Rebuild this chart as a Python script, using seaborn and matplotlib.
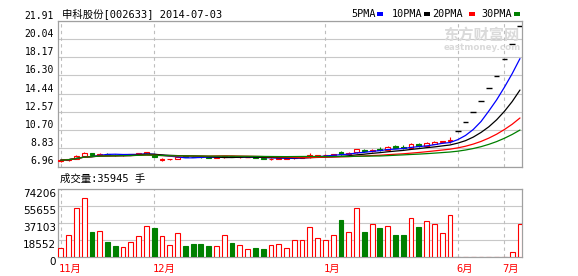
import numpy as np
import pandas as pd
import matplotlib
matplotlib.use("Agg")
import matplotlib.pyplot as plt
import matplotlib.transforms as mtrans
from matplotlib.patches import Rectangle
import seaborn as sns

# ---------------- data ----------------
title_text = "申科股份[002633] 2014-07-03"
opens = [7.51, 7.58, 7.73, 8.03, 8.33, 8.18, 8.28, 8.18, 8.13, 8.15,
         8.21, 8.28, 8.13, 7.58, 7.68, 7.73, 8.05, 7.98, 7.95, 7.93,
         7.85, 7.89, 7.99, 7.89, 7.91, 7.93, 7.87, 7.68, 7.75, 7.77,
         7.79, 7.83, 7.91, 8.08, 8.11, 8.15, 8.43, 8.23, 8.43, 8.68,
         8.53, 8.73, 8.68, 9.03, 8.93, 8.85, 9.23, 9.11, 9.28, 9.45,
         9.53, 10.55, 11.50, 12.55, 13.65, 15.00, 16.25, 17.98, 19.52, 21.37]
highs = [7.65, 7.75, 8.11, 8.41, 8.38, 8.38, 8.31, 8.23, 8.23, 8.25,
         8.38, 8.48, 8.28, 7.83, 7.78, 8.08, 8.08, 8.01, 7.98, 7.95,
         7.95, 8.03, 8.01, 7.98, 7.97, 7.95, 7.89, 7.81, 7.83, 7.85,
         7.91, 7.95, 8.33, 8.18, 8.21, 8.28, 8.58, 8.43, 8.78, 8.73,
         8.73, 8.93, 9.03, 9.18, 9.13, 9.33, 9.38, 9.48, 9.53, 9.61,
         10.03, 10.55, 11.50, 12.55, 13.65, 15.00, 16.25, 17.98, 19.52, 21.37]
lows = [7.43, 7.55, 7.68, 7.98, 8.11, 8.13, 8.13, 8.08, 8.08, 8.11,
        8.18, 8.25, 7.89, 7.53, 7.58, 7.71, 7.93, 7.89, 7.87, 7.85,
        7.83, 7.87, 7.89, 7.87, 7.89, 7.85, 7.75, 7.61, 7.71, 7.73,
        7.75, 7.79, 7.88, 8.03, 8.08, 8.13, 8.18, 8.18, 8.38, 8.48,
        8.48, 8.58, 8.63, 8.83, 8.78, 8.83, 8.98, 9.08, 9.23, 9.41,
        9.33, 10.55, 11.50, 12.55, 13.65, 15.00, 16.25, 17.98, 19.52, 21.37]
closes = [7.61, 7.71, 8.03, 8.33, 8.18, 8.28, 8.18, 8.13, 8.18, 8.21,
          8.33, 8.43, 7.91, 7.68, 7.73, 7.98, 7.95, 7.91, 7.89, 7.87,
          7.91, 7.99, 7.91, 7.93, 7.93, 7.87, 7.77, 7.75, 7.79, 7.81,
          7.85, 7.91, 8.11, 8.13, 8.17, 8.23, 8.23, 8.38, 8.71, 8.53,
          8.68, 8.63, 8.98, 8.88, 8.85, 9.23, 9.08, 9.33, 9.48, 9.55,
          9.63, 10.55, 11.50, 12.55, 13.65, 15.00, 16.25, 17.98, 19.52, 21.37]
volumes = [9500, 23800, 53400, 64300, 27400, 28200, 16400, 12100, 10600, 16400,
           22700, 33600, 31800, 22700, 12800, 26000, 12100, 14200, 14200, 12100,
           11700, 23800, 15300, 12800, 8400, 9900, 8800, 12800, 13900, 9500,
           18300, 18300, 32500, 20500, 18300, 23800, 40500, 27400, 53400, 27400,
           35800, 31800, 33600, 24100, 24100, 42400, 32900, 39100, 36200, 26300,
           45700, 300, 300, 300, 300, 300, 300, 300, 5200, 35945]
price_ticks = [6.96, 8.83, 10.70, 12.57, 14.44, 16.30, 18.17, 20.04, 21.91]
price_labels = ["6.96", "8.83", "10.70", "12.57", "14.44", "16.30", "18.17", "20.04", "21.91"]
vol_ticks = [0, 18552, 37103, 55655, 74206]
vol_labels = ["0", "18552", "37103", "55655", "74206"]
month_pos = [0, 12, 34, 51, 57]
month_labels = ["11月", "12月", "1月", "6月", "7月"]
ma_windows = [5, 10, 20, 30]
ma_names = ["5PMA", "10PMA", "20PMA", "30PMA"]
ma_colors = ["#0000FF", "#000000", "#FF0000", "#008000"]

# ---------------- style ----------------
sns.set_style("white")
plt.rcParams["font.family"] = ["DejaVu Sans", "Noto Sans CJK SC"]
MONO_CJK = ["DejaVu Sans Mono", "Noto Sans CJK SC"]
RED = "#FF0000"
GREEN = "#008000"
GRID = "#C8C8C8"
SPINE = "#A0A0A0"

W, H = 578, 276
fig = plt.figure(figsize=(W / 100, H / 100), dpi=100)


def fx(x):
    return x / W


def fy(y):
    return 1 - y / H


ax = fig.add_axes([fx(58.3), fy(166.5), (522.3 - 58.3) / W, (166.5 - 20.7) / H])
axv = fig.add_axes([fx(58.3), fy(257), (522.3 - 58.3) / W, (257 - 189.3) / H])

df = pd.DataFrame({"idx": np.arange(len(closes)), "open": opens, "high": highs,
                   "low": lows, "close": closes, "vol": volumes})
df["up"] = df["close"] >= df["open"]

# ---------- price panel ----------
bw = 0.62
for r in df.itertuples():
    if r.open == r.close and r.high == r.low:
        ax.hlines(r.close, r.idx - 0.37, r.idx + 0.37, color="black", lw=1.0, zorder=5)
        continue
    col = RED if r.up else GREEN
    ax.vlines(r.idx, r.low, r.high, color=col, lw=0.8, zorder=3)
    body = abs(r.close - r.open)
    if body < 0.025:
        ax.hlines(r.close, r.idx - bw / 2, r.idx + bw / 2, color=col, lw=1.0, zorder=4)
    else:
        ax.bar(r.idx, r.close - r.open, bottom=r.open, width=bw,
               facecolor="white" if r.up else GREEN, edgecolor=col, lw=0.8, zorder=4)

for w, c in zip(ma_windows, ma_colors):
    ma = df["close"].rolling(w, min_periods=1).mean()
    sns.lineplot(x=df["idx"], y=ma, color=c, lw=0.9, ax=ax, zorder=6)

ax.set_xlim(-0.32, 59.3)
ax.set_ylim(price_ticks[0], price_ticks[-1])
ax.set_yticks(price_ticks, price_labels)
ax.set_xticks([])
ax.set_xlabel("")
ax.set_ylabel("")
ax.tick_params(axis="y", length=0, pad=3.0, labelsize=7, labelcolor="black")
for t in ax.get_yticklabels():
    t.set_va("bottom")
    t.set_family("DejaVu Sans Mono")
for yv in price_ticks:
    ax.axhline(yv, color=GRID, lw=0.8, zorder=1)

# ---------- volume panel ----------
vcols = [RED if u else GREEN for u in df["up"]]
vfaces = ["white" if u else GREEN for u in df["up"]]
axv.bar(df["idx"], df["vol"], width=bw, color=vfaces, edgecolor=vcols, lw=0.8, zorder=3)
axv.set_xlim(-0.32, 59.3)
axv.set_ylim(0, vol_ticks[-1])
axv.set_yticks(vol_ticks, vol_labels)
axv.set_xticks([])
axv.tick_params(axis="y", length=0, pad=1.5, labelsize=7.5, labelcolor="black")
for t in axv.get_yticklabels():
    t.set_va("top")
for yv in vol_ticks:
    axv.axhline(yv, color=GRID, lw=0.8, zorder=1)

for a in (ax, axv):
    for s in a.spines.values():
        s.set_color(SPINE)
        s.set_linewidth(0.9)
    for m in month_pos:
        a.axvline(m, color="#BEBEBE", lw=0.8, ls=(0, (3, 3)), zorder=1)

# month labels
tr = mtrans.blended_transform_factory(axv.transData, fig.transFigure)
for m, lab in zip(month_pos, month_labels):
    axv.text(m - 0.22, fy(271.5), lab, transform=tr, ha="left", va="baseline",
             color=RED, fontsize=7.5, family=MONO_CJK)

# ---------- header texts ----------
fig.text(fx(62), fy(17.3), title_text, ha="left", va="baseline",
         fontsize=7.5, family=MONO_CJK, color="black")
fig.text(fx(60), fy(182), "成交量:35945 手", ha="left", va="baseline",
         fontsize=7.5, family=MONO_CJK, color="black")

leg_x = [351.7, 391.7, 431.7, 481.7]
rect_x = [377, 424, 469, 514]
for name, c, lx, rx in zip(ma_names, ma_colors, leg_x, rect_x):
    fig.text(fx(lx), fy(17.3), name, ha="left", va="baseline", fontsize=7.3,
             family="DejaVu Sans Mono", color="black")
    fig.add_artist(Rectangle((fx(rx), fy(15.5)), 5.5 / W, 3 / H,
                             transform=fig.transFigure, color=c, lw=0))

# watermark
fig.text(fx(443), fy(35), "东方财富网", ha="left", va="center", fontsize=11,
         weight="bold", family="Noto Sans CJK SC", color="#DADADA", zorder=0)
fig.text(fx(444), fy(47), "eastmoney.com", ha="left", va="center", fontsize=6.3,
         weight="bold", family="DejaVu Sans", color="#DADADA", zorder=0)

fig.savefig("out.png", dpi=100)
